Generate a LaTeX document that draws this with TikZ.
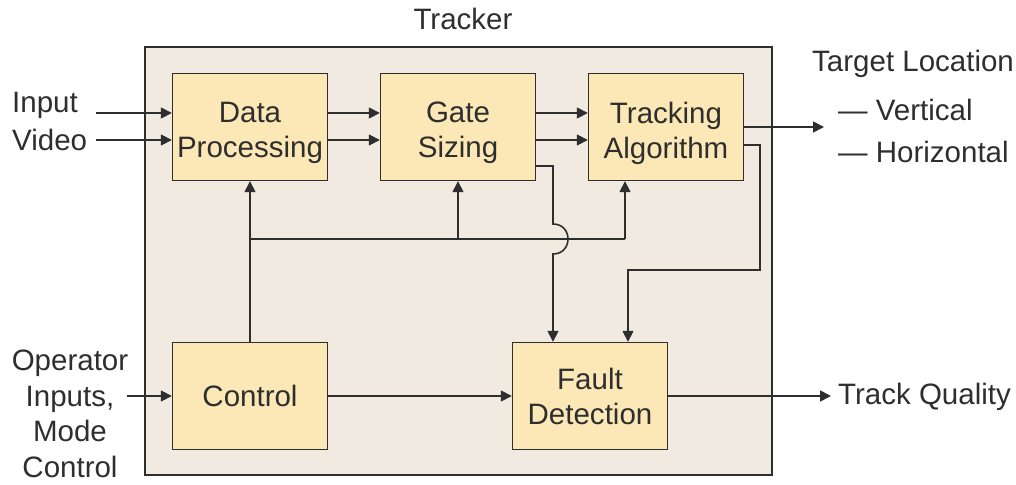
\documentclass[tikz,border=0pt]{standalone}
\usepackage{fontspec}
\setmainfont{Liberation Sans}
\usetikzlibrary{arrows.meta,calc}
\definecolor{blockfill}{HTML}{FCE8B6}
\definecolor{framefill}{HTML}{F0EAE0}
\definecolor{ink}{HTML}{2E2E2E}
\begin{document}
\begin{tikzpicture}[x=1pt,y=-1pt,
  every node/.style={font=\fontsize{29.5}{35}\selectfont, text=ink},
  block/.style={draw=ink, line width=1.4pt, fill=blockfill, minimum width=155pt,
    minimum height=107pt, align=center, inner sep=0pt},
  twoline/.style={block, label={[align=center, inner sep=0pt, yshift=-6pt]center:#1}},
  wire/.style={draw=ink, line width=1.6pt},
  arr/.style={wire, -{Triangle[length=11pt,width=11pt]}},
  lbl/.style={align=center, inner sep=0pt}]
\useasboundingbox (0,0) rectangle (1016,484);
% enclosing tracker frame
\node[draw=ink, line width=1.4pt, fill=framefill, minimum width=627pt, minimum height=428pt,
  inner sep=0pt] (frame) at (458.5,261) {};
\node[lbl] (title) at (463,19) {Tracker};
% processing blocks
\node[twoline={Data\\Processing}] (dp) at (250,127) {};
\node[twoline={Gate\\Sizing}] (gs) at (458,127) {};
\node[twoline={Tracking\\Algorithm}] (ta) at (666,127) {};
\node[block] (ctl) at (250,396) {Control};
\node[block] (fd) at (590,396) {Fault\\Detection};
% external labels
\node[lbl, anchor=west] (inp) at (12,105) {Input};
\node[lbl, anchor=west] (vid) at (12,140) {Video};
\node[lbl, font=\fontsize{29.5}{35.5}\selectfont] (op) at (70,414) {Operator\\Inputs,\\Mode\\Control};
\node[lbl, anchor=west] (tl) at (812,64) {Target Location};
\node[lbl, anchor=west] (vert) at (838,110) {— Vertical};
\node[lbl, anchor=west] (horz) at (838,152) {— Horizontal};
\node[lbl, anchor=west] (tq) at (838,397) {Track Quality};
% free ends of external connectors
\coordinate (inA) at (96,113);
\coordinate (inB) at (96,140);
\coordinate (opIn) at (127,396);
\coordinate (tlOut) at (824,127);
\coordinate (tqOut) at (831,396);
% inputs into data processing
\draw[arr] (inA) -- (inA -| dp.west);
\draw[arr] (inB) -- (inB -| dp.west);
% pipeline connections
\draw[arr] (dp.east |- 0,113) -- (gs.west |- 0,113);
\draw[arr] (dp.east |- 0,140) -- (gs.west |- 0,140);
\draw[arr] (gs.east |- 0,113) -- (ta.west |- 0,113);
\draw[arr] (gs.east |- 0,140) -- (ta.west |- 0,140);
% outputs
\draw[arr] (ta.east |- tlOut) -- (tlOut);
\draw[arr] (fd.east) -- (tqOut);
\draw[arr] (opIn) -- (ctl.west);
\draw[arr] (ctl.east) -- (fd.west);
% control bus
\coordinate (busL) at (250,239);
\coordinate (busR) at (625,239);
\draw[wire] (ctl.north) -- (busL) -- (busR);
\draw[arr] (busL) -- (dp.south);
\draw[arr] (gs.south |- busL) -- (gs.south);
\draw[arr] (busR) -- (ta.south -| busR);
% gate sizing to fault detection, hopping over the bus
\draw[arr] (gs.east |- 0,166) -- (553,166) -- (553,224)
  .. controls (573,224) and (573,254) .. (553,254) -- (fd.north -| 553,0);
% tracking algorithm to fault detection
\draw[arr] (ta.east |- 0,145) -- (760,145) -- (760,270) -- (628,270) -- (fd.north -| 628,0);
\end{tikzpicture}
\end{document}
